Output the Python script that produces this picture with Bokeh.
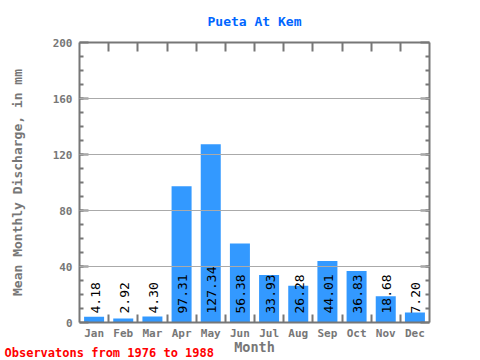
import math
from bokeh.plotting import figure
from bokeh.models import (ColumnDataSource, LinearAxis, FixedTicker, Range1d, Grid, Title)
from bokeh.core.properties import value
from bokeh.embed import file_html
from bokeh.resources import INLINE

months = ["Jan", "Feb", "Mar", "Apr", "May", "Jun", "Jul", "Aug", "Sep", "Oct", "Nov", "Dec"]
discharge = [4.18, 2.92, 4.30, 97.31, 127.34, 56.38, 33.93, 26.28, 44.01, 36.83, 18.68, 7.20]
y_ticks = [0, 40, 80, 120, 160, 200]
title_text = "Pueta At Kem"
x_label = "Month"
y_label = "Mean Monthly Discharge, in mm"
note_text = "Observatons from 1976 to 1988"

centers = [i + 0.5 for i in range(len(months))]
bounds = [i for i in range(1, len(months))]
labels = ["%.2f" % v for v in discharge]

src = ColumnDataSource(dict(x=centers, top=discharge, lab=labels))

MONO = "DejaVu Sans Mono"
GRAY = "#777777"

W, H = 480, 360
FL, FR, FT, FB = 79, 429, 42, 322   # frame edges in pixels

p = figure(width=W, height=H, output_backend="svg", toolbar_location=None,
           x_range=Range1d(0, 12), y_range=Range1d(0, 200),
           x_axis_location=None, y_axis_location=None,
           min_border_left=FL, min_border_right=W - FR,
           min_border_top=FT, min_border_bottom=H - FB)
p.outline_line_color = None
p.background_fill_color = "white"
p.border_fill_color = "white"
for g in p.grid:
    g.visible = False

p.title.text = title_text
p.title.align = "center"
p.title.offset = -9
p.title.text_font = MONO
p.title.text_font_style = "bold"
p.title.text_font_size = "13px"
p.title.text_color = "#0066FF"
p.title.vertical_align = "top"
p.title.standoff = 24

grid = Grid(dimension=1, ticker=FixedTicker(ticks=y_ticks[1:-1]),
            grid_line_color="#aaaaaa", grid_line_width=1, level="guide")
p.add_layout(grid)

p.vbar(x="x", top="top", width=0.686, source=src, fill_color="#3399FF", line_color=None)

p.text(x="x", y=0, text="lab", source=src, angle=math.pi / 2, text_align="left",
       text_baseline="middle", text_font=value(MONO), text_font_size="13px",
       text_color="black", y_offset=-9, x_offset=1)

def style_axis(ax):
    ax.axis_line_color = GRAY
    ax.axis_line_width = 2
    ax.major_tick_line_color = GRAY
    ax.minor_tick_line_color = GRAY
    ax.major_tick_line_width = 2
    ax.minor_tick_line_width = 2
    ax.major_label_text_color = GRAY
    ax.major_label_text_font = MONO
    ax.major_label_text_font_style = "bold"
    ax.major_label_text_font_size = "11px"
    ax.axis_label_text_color = GRAY
    ax.axis_label_text_font = MONO
    ax.axis_label_text_font_style = "bold"

bx = LinearAxis(ticker=FixedTicker(ticks=centers, minor_ticks=bounds),
                major_label_overrides={c: m for c, m in zip(centers, months)})
style_axis(bx)
bx.major_tick_line_color = None
bx.minor_tick_in = 8
bx.minor_tick_out = 0
bx.major_label_standoff = -2
bx.axis_label = x_label
bx.axis_label_text_font_size = "13.5px"
bx.axis_label_standoff = -4
p.add_layout(bx, "below")

note = Title(text=note_text, align="left", offset=-(FL - 4), text_font=MONO,
             text_font_style="bold", text_font_size="12px", text_color="#FF0000",
             vertical_align="top")
note.standoff = -24
p.add_layout(note, "below")

tx = LinearAxis(ticker=FixedTicker(ticks=bounds, minor_ticks=[]))
style_axis(tx)
tx.major_tick_in = 9
tx.major_tick_out = 0
tx.major_label_standoff = 0
tx.major_label_text_color = None
tx.major_label_text_font_size = "0px"
p.add_layout(tx, "above")

ly = LinearAxis(ticker=FixedTicker(ticks=y_ticks, minor_ticks=list(range(10, 200, 10))))
style_axis(ly)
ly.major_tick_in = 9
ly.major_tick_out = 0
ly.minor_tick_in = 4
ly.minor_tick_out = 0
ly.major_label_standoff = 7
ly.axis_label = y_label
ly.axis_label_text_font_size = "13px"
ly.axis_label_standoff = 25
p.add_layout(ly, "left")

ry = LinearAxis(ticker=FixedTicker(ticks=y_ticks, minor_ticks=list(range(10, 200, 10))))
style_axis(ry)
ry.major_tick_in = 9
ry.major_tick_out = 0
ry.minor_tick_in = 4
ry.minor_tick_out = 0
ry.major_label_text_color = None
ry.major_label_text_font_size = "0px"
p.add_layout(ry, "right")

open("out.html", "w").write(file_html(p, INLINE))
